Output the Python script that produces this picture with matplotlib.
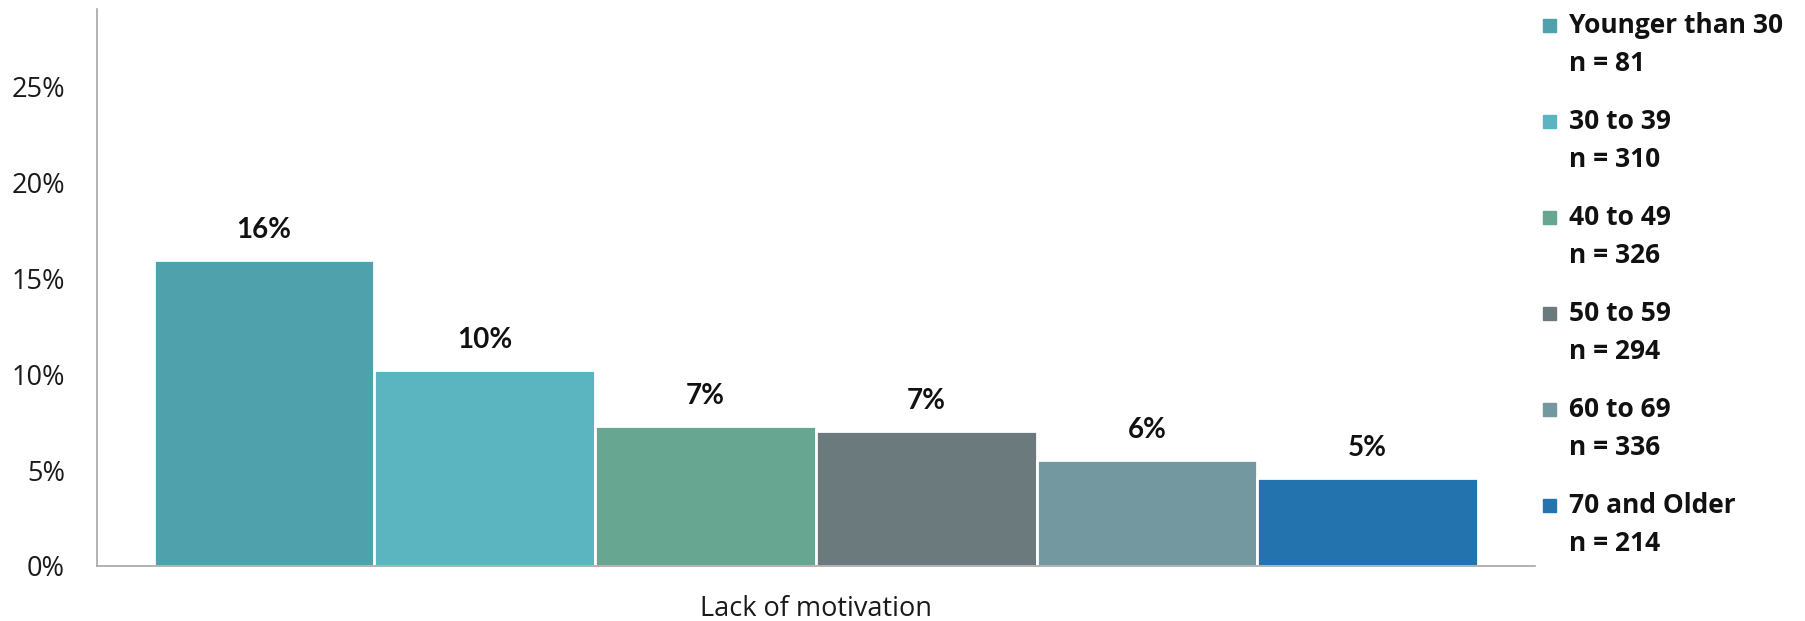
import matplotlib
matplotlib.use("Agg")
import matplotlib.pyplot as plt
from matplotlib.patches import Rectangle
from matplotlib.ticker import PercentFormatter

# data
groups = ["Younger than 30", "30 to 39", "40 to 49", "50 to 59", "60 to 69", "70 and Older"]
n_resp = [81, 310, 326, 294, 336, 214]
shares = [0.1597, 0.1025, 0.0730, 0.0705, 0.0553, 0.0459]
category = "Lack of motivation"
colors = ["#4FA1AB", "#5AB5C0", "#67A792", "#6B7A7D", "#7498A0", "#2373AF"]

W, H = 1806, 621
fig = plt.figure(figsize=(W / 100, H / 100), dpi=100)
ax = fig.add_axes([97 / W, 1 - 566 / H, (1535 - 97) / W, (566 - 9) / H])

x = list(range(len(groups)))
ax.bar(x, shares, width=1.0, color=colors, edgecolor="white", linewidth=2)

for xi, v in zip(x, shares):
    ax.annotate(f"{round(v * 100):d}%", (xi, v), xytext=(0, 22), textcoords="offset pixels",
                ha="center", va="baseline", fontsize=20, fontweight="bold",
                family="Lato", color="#111111")

ax.set_xlim(-0.756, 5.758)
ax.set_ylim(0, 0.2907)
ax.set_yticks([0, 0.05, 0.10, 0.15, 0.20, 0.25])
ax.yaxis.set_major_formatter(PercentFormatter(1.0, decimals=0))
ax.set_xticks([(len(groups) - 1) / 2])
ax.set_xticklabels([category])

for lab in ax.get_yticklabels() + ax.get_xticklabels():
    lab.set_family("Open Sans")
    lab.set_fontsize(19.5)
    lab.set_color("#1a1a1a")
ax.tick_params(axis="y", length=0, pad=23)
ax.tick_params(axis="x", length=0, pad=21)

for s in ["top", "right"]:
    ax.spines[s].set_visible(False)
for s in ["left", "bottom"]:
    ax.spines[s].set_color("#A6A6A6")
    ax.spines[s].set_linewidth(1.2)

# legend drawn by hand, two lines per entry
base0, step, gap = 33, 96, 38
for i, (g, n, c) in enumerate(zip(groups, n_resp, colors)):
    b = base0 + step * i
    fig.patches.append(Rectangle((1543 / W, 1 - (b - 1) / H), 13 / W, 13 / H,
                                 transform=fig.transFigure, color=c))
    fig.text(1569 / W, 1 - b / H, g, fontsize=19, fontweight="bold",
             family="Open Sans", va="baseline", ha="left", color="#111111")
    fig.text(1569 / W, 1 - (b + gap) / H, f"n = {n}", fontsize=19, fontweight="bold",
             family="Open Sans", va="baseline", ha="left", color="#111111")

fig.savefig("out.png", dpi=100)
